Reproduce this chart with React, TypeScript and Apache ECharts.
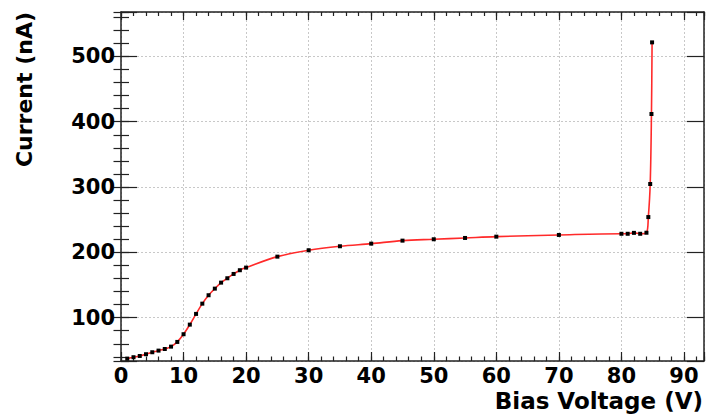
import React, { useEffect, useRef } from "react";
import * as echarts from "echarts";

const voltage = [1, 2, 3, 4, 5, 6, 7, 8, 9, 10, 11, 12, 13, 14, 15, 16, 17, 18, 19, 20, 25, 30, 35, 40, 45, 50, 55, 60, 70, 80, 81, 82, 83, 84, 84.3, 84.6, 84.8, 84.9];
const current = [37.2, 39.4, 41.3, 44, 47, 49.5, 52, 55.6, 62.8, 74.6, 89.3, 105.7, 121.4, 134.3, 144.4, 153.6, 160.3, 166.9, 172.6, 176.6, 193.4, 203.2, 209.3, 213.3, 217.9, 220, 222, 224, 226.6, 228.4, 228.4, 229.8, 228.4, 230, 254, 304.6, 411.8, 521.5];

const xRange = [0, 93.2];
const yRange = [33.6, 568];
const xTitle = "Bias Voltage (V)";
const yTitle = "Current (nA)";

const FONT = "DejaVu Sans";
const AX = "#222";

export default function App() {
  const ref = useRef<HTMLDivElement>(null);
  useEffect(() => {
    if (!ref.current) return;
    const chart = echarts.init(ref.current, undefined, { renderer: "svg" });
    const data = voltage.map((v, i) => [v, current[i]]);
    const baseX = (extra: any) => ({
      type: "value",
      min: xRange[0],
      max: xRange[1],
      gridIndex: 0,
      axisLabel: { show: false },
      splitLine: { show: false },
      axisLine: { show: false },
      ...extra,
    });
    const baseY = (extra: any) => ({
      type: "value",
      min: yRange[0],
      max: yRange[1],
      gridIndex: 0,
      axisLabel: { show: false },
      splitLine: { show: false },
      axisLine: { show: false },
      ...extra,
    });
    chart.setOption({
      animation: false,
      backgroundColor: "#fff",
      grid: { left: 121, right: 3, top: 12, bottom: 56, containLabel: false },
      xAxis: [
        baseX({
          position: "bottom",
          interval: 10,
          axisLine: { show: true, onZero: false, lineStyle: { color: AX, width: 1.5 } },
          axisTick: { show: true, inside: true, length: 9, lineStyle: { color: AX, width: 1.2 } },
          axisLabel: {
            show: true,
            margin: 4,
            color: "#000",
            fontFamily: FONT,
            fontWeight: "bold",
            fontSize: 21,
            formatter: (v: number) => (Math.abs(v % 10) < 1e-6 ? String(v) : ""),
          },
          splitLine: { show: true, lineStyle: { color: "#c8c8c8", type: [2, 2], width: 1 } },
        }),
        baseX({
          position: "bottom",
          interval: 2,
          axisTick: { show: true, inside: true, length: 4.5, lineStyle: { color: AX, width: 1.2 } },
        }),
        baseX({
          position: "top",
          interval: 10,
          axisLine: { show: true, onZero: false, lineStyle: { color: AX, width: 1.5 } },
          axisTick: { show: true, inside: true, length: 8, lineStyle: { color: AX, width: 1.2 } },
        }),
        baseX({
          position: "top",
          interval: 2,
          axisTick: { show: true, inside: true, length: 4, lineStyle: { color: AX, width: 1.2 } },
        }),
      ],
      yAxis: [
        baseY({
          position: "left",
          minInterval: 100,
          maxInterval: 100,
          axisLine: { show: true, onZero: false, lineStyle: { color: AX, width: 1.5 } },
          axisTick: { show: true, inside: true, length: 16, lineStyle: { color: AX, width: 1.2 } },
          axisLabel: {
            show: true,
            margin: 6,
            color: "#000",
            fontFamily: FONT,
            fontWeight: "bold",
            fontSize: 21,
            formatter: (v: number) => (Math.abs(v % 100) < 1e-6 ? String(v) : ""),
          },
          splitLine: { show: true, lineStyle: { color: "#c8c8c8", type: [2, 2], width: 1 } },
        }),
        baseY({
          position: "left",
          minInterval: 20,
          maxInterval: 20,
          axisTick: { show: true, inside: true, length: 8, lineStyle: { color: AX, width: 1.2 } },
        }),
        baseY({
          position: "right",
          minInterval: 100,
          maxInterval: 100,
          axisLine: { show: true, onZero: false, lineStyle: { color: AX, width: 1.5 } },
          axisTick: { show: true, inside: true, length: 17, lineStyle: { color: AX, width: 1.2 } },
        }),
        baseY({
          position: "right",
          minInterval: 20,
          maxInterval: 20,
          axisTick: { show: true, inside: true, length: 7.5, lineStyle: { color: AX, width: 1.2 } },
        }),
      ],
      series: [
        {
          type: "line",
          xAxisIndex: 0,
          yAxisIndex: 0,
          data,
          smooth: 0.35,
          lineStyle: { color: "#ff2a2a", width: 1.6 },
          symbol: "rect",
          symbolSize: 4,
          itemStyle: { color: "#000" },
          showSymbol: true,
          z: 5,
        },
      ],
      graphic: [
        {
          type: "text",
          right: 4,
          top: 389,
          style: {
            text: xTitle,
            fill: "#000",
            font: `bold 23px "${FONT}"`,
            lineHeight: 24,
          },
        },
        {
          type: "text",
          x: 24,
          y: 12,
          rotation: Math.PI / 2,
          style: {
            text: yTitle,
            fill: "#000",
            font: `bold 22px "${FONT}"`,
            align: "right",
            verticalAlign: "middle",
          },
        },
      ],
    });
    return () => chart.dispose();
  }, []);
  return (
    <div
      ref={ref}
      style={{ position: "fixed", left: 0, top: 0, width: 707, height: 417 }}
    />
  );
}
